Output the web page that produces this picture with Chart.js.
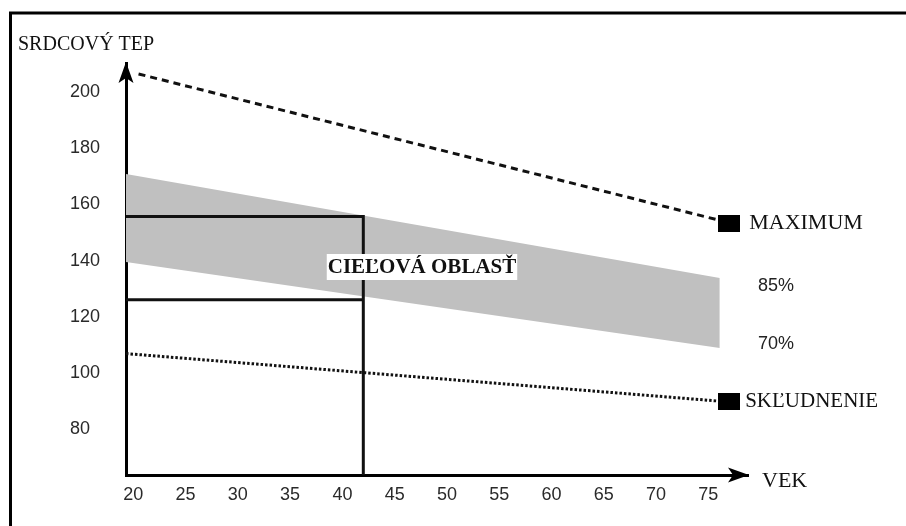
<!DOCTYPE html>
<html>
<head>
<meta charset="utf-8">
<script src="https://cdn.jsdelivr.net/npm/chart.js@4.4.1/dist/chart.umd.min.js"></script>
<style>
html, body { margin: 0; padding: 0; background: #fff; }
#wrap { width: 906px; height: 526px; position: relative; }
</style>
</head>
<body>
<div id="wrap"><canvas id="heartChart"></canvas></div>
<script>
// axis ticks
const ageTicks = [20, 25, 30, 35, 40, 45, 50, 55, 60, 65, 70, 75];
const rateTicks = [80, 100, 120, 140, 160, 180, 200];

// shaded zone between 70% and 85%
const zoneAges = [19.3, 76.1];
const zone85 = [170.8, 133.8];
const zone70 = [139.5, 108.9];

// maximum heart rate (dashed)
const maxAges = [20.5, 76];
const maxRate = [206.4, 154.4];

// resting heart rate (dotted)
const restAges = [19.3, 76];
const restRate = [106.9, 90.0];

// target box for age 42
const targetAges = [19.3, 42, 42];
const targetUpper = [155.7, 155.7, 63.7];
const targetLowAges = [19.3, 42];
const targetLower = [126.1, 126.1];

// end markers
const markerAges = [77, 77];
const markerRate = [153.2, 89.9];
const markerLabels = ['MAXIMUM', 'SKĽUDNENIE'];

const toPoints = (xs, ys) => xs.map((x, i) => ({ x: x, y: ys[i] }));

// black block used as marker
const markerImg = document.createElement('canvas');
markerImg.width = 22;
markerImg.height = 17;
markerImg.getContext('2d').fillRect(0, 0, 22, 17);

const serif = '"Liberation Serif", "Times New Roman", serif';
const sans = '"Liberation Sans", Arial, sans-serif';

const decorPlugin = {
    id: 'decor',
    afterDatasetsDraw(chart) {
        const ctx = chart.ctx;
        const area = chart.chartArea;
        const xs = chart.scales.x;
        const ys = chart.scales.y;
        ctx.save();

        // page frame (top + left)
        ctx.strokeStyle = '#000';
        ctx.lineWidth = 3;
        ctx.beginPath();
        ctx.moveTo(10.5, 526);
        ctx.lineTo(10.5, 13);
        ctx.lineTo(906, 13);
        ctx.stroke();

        // arrow heads
        ctx.fillStyle = '#000';
        const ax = area.left;
        ctx.beginPath();
        ctx.moveTo(ax, area.top - 1);
        ctx.lineTo(ax + 7.5, area.top + 20);
        ctx.lineTo(ax, area.top + 15);
        ctx.lineTo(ax - 7.5, area.top + 20);
        ctx.closePath();
        ctx.fill();
        const by = area.bottom;
        ctx.beginPath();
        ctx.moveTo(area.right + 1, by);
        ctx.lineTo(area.right - 20, by - 7.5);
        ctx.lineTo(area.right - 15, by);
        ctx.lineTo(area.right - 20, by + 7.5);
        ctx.closePath();
        ctx.fill();

        // axis titles
        ctx.fillStyle = '#111';
        ctx.textBaseline = 'middle';
        ctx.textAlign = 'left';
        ctx.font = '20px ' + serif;
        ctx.fillText('SRDCOVÝ TEP', 18, 45);
        ctx.font = '22px ' + serif;
        ctx.fillText('VEK', area.right + 14, area.bottom + 6);

        // marker labels
        ctx.font = '22px ' + serif;
        ctx.fillText(markerLabels[0], xs.getPixelForValue(markerAges[0]) + 20, ys.getPixelForValue(markerRate[0]));
        ctx.font = '21px ' + serif;
        ctx.fillText(markerLabels[1], xs.getPixelForValue(markerAges[1]) + 16, ys.getPixelForValue(markerRate[1]));

        // zone labels
        ctx.fillStyle = '#222';
        ctx.font = '18px ' + sans;
        ctx.fillText('85%', 758, 286);
        ctx.fillText('70%', 758, 344);

        // target zone caption on white box
        ctx.font = 'bold 21px ' + serif;
        const cx = 422, cy = 267;
        const w = ctx.measureText('CIEĽOVÁ OBLASŤ').width;
        ctx.fillStyle = '#fff';
        ctx.fillRect(cx - w / 2 - 1, cy - 13, w + 2, 26);
        ctx.fillStyle = '#111';
        ctx.textAlign = 'center';
        ctx.fillText('CIEĽOVÁ OBLASŤ', cx, cy + 1);

        ctx.restore();
    }
};

new Chart(document.getElementById('heartChart').getContext('2d'), {
    type: 'line',
    data: {
        datasets: [
            {
                data: toPoints(zoneAges, zone85),
                borderColor: 'rgba(0,0,0,0)',
                borderWidth: 0,
                backgroundColor: '#c0c0c0',
                fill: '+1',
                pointRadius: 0,
                order: 5
            },
            {
                data: toPoints(zoneAges, zone70),
                borderColor: 'rgba(0,0,0,0)',
                borderWidth: 0,
                fill: false,
                pointRadius: 0,
                order: 5
            },
            {
                data: toPoints(maxAges, maxRate),
                borderColor: '#111',
                borderWidth: 3,
                borderDash: [7, 5],
                pointRadius: 0,
                fill: false
            },
            {
                data: toPoints(restAges, restRate),
                borderColor: '#111',
                borderWidth: 3,
                borderDash: [2.5, 2],
                pointRadius: 0,
                fill: false
            },
            {
                data: toPoints(targetAges, targetUpper),
                borderColor: '#111',
                borderWidth: 3,
                pointRadius: 0,
                fill: false
            },
            {
                data: toPoints(targetLowAges, targetLower),
                borderColor: '#111',
                borderWidth: 3,
                pointRadius: 0,
                fill: false
            },
            {
                data: toPoints(markerAges, markerRate),
                showLine: false,
                pointStyle: markerImg,
                pointRadius: 10,
                fill: false
            }
        ]
    },
    options: {
        responsive: true,
        maintainAspectRatio: false,
        animation: false,
        clip: false,
        layout: { padding: { left: 70, top: 63, right: 158, bottom: 0 } },
        plugins: {
            legend: { display: false },
            tooltip: { enabled: false }
        },
        scales: {
            x: {
                type: 'linear',
                min: 19.3,
                max: 78.8,
                afterBuildTicks: (scale) => { scale.ticks = ageTicks.map(v => ({ value: v })); },
                afterFit: (scale) => { scale.height = 51; },
                grid: { display: false, drawTicks: false },
                border: { display: true, color: '#000', width: 3 },
                ticks: {
                    padding: 9,
                    color: '#2a2a2a',
                    font: { family: sans, size: 18 },
                    maxRotation: 0,
                    autoSkip: false
                }
            },
            y: {
                type: 'linear',
                min: 63.7,
                max: 210.3,
                afterBuildTicks: (scale) => { scale.ticks = rateTicks.map(v => ({ value: v })); },
                afterFit: (scale) => { scale.width = 56; },
                grid: { display: false, drawTicks: false },
                border: { display: true, color: '#000', width: 3 },
                ticks: {
                    crossAlign: 'far',
                    color: '#2a2a2a',
                    font: { family: sans, size: 18 }
                }
            }
        }
    },
    plugins: [decorPlugin]
});
</script>
</body>
</html>
